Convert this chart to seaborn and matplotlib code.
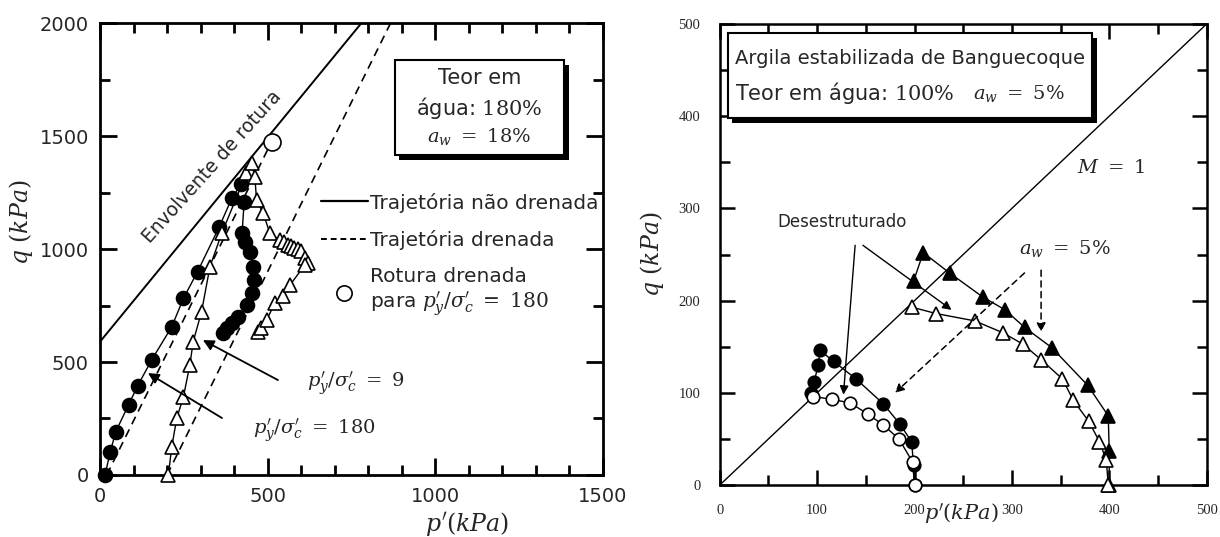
import matplotlib
matplotlib.use("Agg")
import matplotlib.pyplot as plt
import matplotlib.patches as mpatches
import matplotlib.patheffects as pe
from matplotlib.lines import Line2D
from matplotlib.ticker import MultipleLocator
import seaborn as sns

# ---------------- data: left panel (cemented clay, water content 180 %) ----------------
# undrained path, p'y/σ'c = 180 (filled circles)
und180_p = [15, 30, 47, 85, 112, 154, 214, 249, 291, 356, 393, 422]
und180_q = [0, 100, 192, 310, 394, 509, 656, 782, 900, 1099, 1224, 1290]
# second filled-circle path
und180b_p = [368, 380, 394, 412, 438, 453, 458, 456, 447, 432, 424, 430]
und180b_q = [628, 650, 672, 699, 752, 805, 863, 920, 987, 1031, 1071, 1209]
# undrained path, p'y/σ'c = 9 (open triangles)
und9_p = [204, 214, 229, 249, 268, 278, 303, 328, 363, 437, 452, 462, 467, 487,
          507, 537, 550, 560, 570, 580, 590, 600, 611, 620]
und9_q = [0, 125, 251, 347, 487, 590, 723, 922, 1069, 1335, 1379, 1320, 1217, 1158,
          1069, 1040, 1030, 1020, 1012, 1005, 1000, 990, 960, 938]
# second open-triangle path
und9b_p = [471, 480, 497, 522, 546, 567, 611]
und9b_q = [634, 650, 686, 761, 790, 841, 929]
# failure envelope and drained stress paths
env_p, env_q = [0, 780], [590, 2000]
dr180_p, dr180_q = [20, 512], [0, 1475]
dr9_p, dr9_q = [200, 867], [0, 2000]
# drained failure point
fail_p, fail_q = [512], [1475]

# ---------------- data: right panel (Bangkok clay, water content 100 %) ----------------
dest_open_p = [200, 198, 184, 168, 152, 134, 115, 96]
dest_open_q = [0, 25, 50, 65, 77, 89, 93, 96]
dest_fill_p = [200, 199, 197, 185, 168, 140, 117, 103, 101, 97, 94]
dest_fill_q = [0, 22, 47, 66, 88, 115, 134, 146, 130, 112, 100]
aw_open_p = [399, 397, 390, 379, 363, 352, 330, 311, 291, 262, 222, 197]
aw_open_q = [0, 27, 47, 69, 92, 115, 136, 153, 165, 178, 186, 193]
aw_fill_p = [400, 400, 399, 378, 341, 313, 293, 270, 236, 209, 199]
aw_fill_q = [0, 37, 75, 108, 149, 171, 190, 204, 230, 252, 221]
csl_p, csl_q = [0, 500], [0, 500]

left_xticks = [0, 500, 1000, 1500]
left_yticks = [0, 500, 1000, 1500, 2000]
right_ticks = [0, 100, 200, 300, 400, 500]

sns.set_style("ticks")
plt.rcParams["font.family"] = ["DejaVu Sans"]
plt.rcParams["mathtext.fontset"] = "dejavuserif"

fig = plt.figure(figsize=(12.2, 5.37), dpi=100)
axL = fig.add_axes([0.082, 0.1155, 0.412, 0.8415])
axR = fig.add_axes([0.590, 0.0968, 0.399, 0.8585])

K = "k"


def path(ax, x, y, marker, filled, ms, ls="-", lw=1.0, z=3):
    sns.lineplot(x=x, y=y, sort=False, estimator=None, ax=ax, color=K, lw=lw,
                 linestyle=ls, marker=marker, markersize=ms,
                 markerfacecolor=K if filled else "white", markeredgecolor=K,
                 markeredgewidth=1.2, zorder=z, clip_on=False)


def style_axes(ax, lw):
    for s in ax.spines.values():
        s.set_linewidth(lw)
        s.set_color(K)
    ax.tick_params(which="both", direction="in", top=True, right=True, color=K,
                   width=lw)


def shadow_box(ax, x0, y0, w, h):
    box = mpatches.Rectangle((x0, y0), w, h, transform=ax.transAxes,
                             facecolor="white", edgecolor=K, lw=1.5, zorder=5,
                             path_effects=[pe.SimplePatchShadow(offset=(3.5, -3.5),
                                                                shadow_rgbFace=K,
                                                                alpha=1),
                                           pe.Normal()])
    ax.add_patch(box)


# ---------------- left panel ----------------
ax = axL
sns.lineplot(x=env_p, y=env_q, ax=ax, color=K, lw=1.4)
sns.lineplot(x=dr180_p, y=dr180_q, ax=ax, color=K, lw=1.2, linestyle=(0, (5, 3.5)))
sns.lineplot(x=dr9_p, y=dr9_q, ax=ax, color=K, lw=1.2, linestyle=(0, (5, 3.5)))
path(ax, und180_p, und180_q, "o", True, 10)
path(ax, und180b_p, und180b_q, "o", True, 10)
path(ax, und9_p, und9_q, "^", False, 10)
path(ax, und9b_p, und9b_q, "^", False, 10)
sns.scatterplot(x=fail_p, y=fail_q, ax=ax, s=150, marker="o", facecolor="white",
                edgecolor=K, linewidth=1.2, zorder=4, clip_on=False)

ax.set_xlim(0, 1500)
ax.set_ylim(0, 2000)
ax.xaxis.set_minor_locator(MultipleLocator(100))
ax.yaxis.set_minor_locator(MultipleLocator(250))
ax.set_xticks(left_xticks)
ax.set_yticks(left_yticks)
style_axes(ax, 2.0)
ax.tick_params(which="major", length=12, labelsize=14)
ax.tick_params(axis="x", which="major", pad=9)
ax.tick_params(axis="y", which="major", pad=8)
ax.tick_params(which="minor", length=7)
ax.set_xlabel(r"$p^{\prime}(kPa)$", fontsize=17)
ax.xaxis.set_label_coords(0.73, -0.077)
ax.set_ylabel(r"$q\ (kPa)$", fontsize=17)
ax.yaxis.set_label_coords(-0.13, 0.56)

ax.text(334, 1363, "Envolvente de rotura", fontsize=13.5, rotation=48,
        rotation_mode="anchor", ha="center", va="center")

shadow_box(ax, 0.586, 0.708, 0.338, 0.21)
ax.text(0.755, 0.878, "Teor em", transform=ax.transAxes, fontsize=15,
        ha="center", va="center", zorder=6)
ax.text(0.755, 0.812, r"água: $180\%$", transform=ax.transAxes, fontsize=15,
        ha="center", va="center", zorder=6)
ax.text(0.755, 0.748, r"$a_w\ =\ 18\%$", transform=ax.transAxes, fontsize=14,
        ha="center", va="center", zorder=6)

handles = [Line2D([], [], color=K, lw=1.6),
           Line2D([], [], color=K, lw=1.4, linestyle=(0, (3, 2))),
           Line2D([], [], color=K, lw=0, marker="o", markersize=11,
                  markerfacecolor="white", markeredgewidth=1.2)]
labels = ["Trajetória não drenada", "Trajetória drenada",
          "Rotura drenada\npara $p_y^{\\prime}/\\sigma_c^{\\prime}\\ =\\ 180$"]
ax.legend(handles, labels, loc="upper left", bbox_to_anchor=(0.44, 0.625),
          frameon=False, fontsize=14.5, handlelength=2.3, handletextpad=0.1,
          labelspacing=0.85, borderpad=0, borderaxespad=0)

arrow = dict(arrowstyle="-|>", color=K, lw=1.3, mutation_scale=16,
             shrinkA=0, shrinkB=0)
ax.annotate("", xy=(307, 597), xytext=(531, 420), arrowprops=arrow)
ax.text(617, 405, r"$p_y^{\prime}/\sigma_c^{\prime}\ =\ 9$", fontsize=14,
        va="center")
ax.annotate("", xy=(143, 451), xytext=(364, 252), arrowprops=arrow)
ax.text(456, 199, r"$p_y^{\prime}/\sigma_c^{\prime}\ =\ 180$", fontsize=14,
        va="center")

# ---------------- right panel ----------------
ax = axR
sns.lineplot(x=csl_p, y=csl_q, ax=ax, color=K, lw=1.0)
path(ax, dest_fill_p, dest_fill_q, "o", True, 9)
path(ax, dest_open_p, dest_open_q, "o", False, 9)
path(ax, aw_fill_p, aw_fill_q, "^", True, 10)
path(ax, aw_open_p, aw_open_q, "^", False, 10)

ax.set_xlim(0, 500)
ax.set_ylim(0, 500)
ax.xaxis.set_minor_locator(MultipleLocator(50))
ax.yaxis.set_minor_locator(MultipleLocator(50))
ax.set_xticks(right_ticks)
ax.set_yticks(right_ticks)
ax.set_xticklabels([str(t) for t in right_ticks], family="Liberation Serif")
ax.set_yticklabels([str(t) for t in right_ticks], family="Liberation Serif")
style_axes(ax, 1.8)
ax.tick_params(which="major", length=11, labelsize=10.5, pad=14)
ax.tick_params(which="minor", length=7)
ax.set_xlabel(r"$p^{\prime}(kPa)$", fontsize=15)
ax.xaxis.set_label_coords(0.497, -0.037)
ax.set_ylabel(r"$q\ (kPa)$", fontsize=17)
ax.yaxis.set_label_coords(-0.11, 0.5)

shadow_box(ax, 0.016, 0.796, 0.748, 0.184)
ax.text(0.39, 0.926, "Argila estabilizada de Banguecoque", transform=ax.transAxes,
        fontsize=14, ha="center", va="center", zorder=6)
ax.text(0.031, 0.85, r"Teor em água: $100\%$", transform=ax.transAxes,
        fontsize=15, ha="left", va="center", zorder=6)
ax.text(0.52, 0.85, r"$a_w\ =\ 5\%$", transform=ax.transAxes,
        fontsize=14, ha="left", va="center", zorder=6)

ax.text(367, 344, r"$M\ =\ 1$", fontsize=14, va="center")
ax.text(354, 257, r"$a_w\ =\ 5\%$", fontsize=14, ha="center", va="center")
ax.text(126, 285, "Desestruturado", fontsize=12, ha="center", va="center")

thin = dict(arrowstyle="-|>", color=K, lw=1.0, mutation_scale=13,
            shrinkA=0, shrinkB=0)
ax.annotate("", xy=(127, 98), xytext=(139, 260), arrowprops=thin)
ax.annotate("", xy=(238, 190), xytext=(147, 260), arrowprops=thin)
dashed = dict(arrowstyle="-|>", color=K, lw=1.1, mutation_scale=13,
              linestyle=(0, (4, 3)), shrinkA=0, shrinkB=0)
ax.annotate("", xy=(180, 100), xytext=(313, 230), arrowprops=dashed)
ax.annotate("", xy=(330, 166), xytext=(330, 233), arrowprops=dashed)

fig.savefig("out.png", dpi=100)
